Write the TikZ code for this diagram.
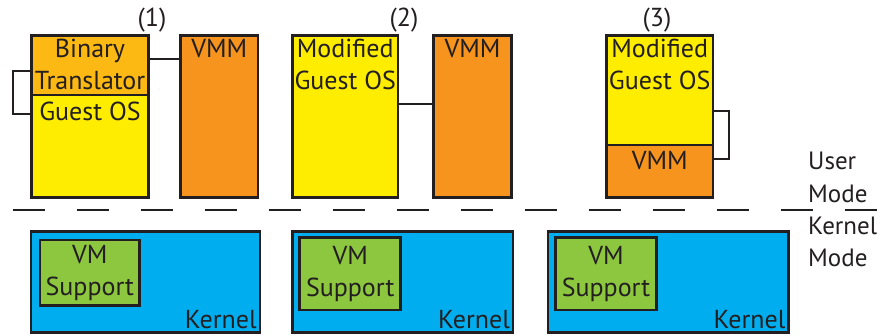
\documentclass[tikz,border=0pt]{standalone}
\usepackage{fontspec}
\setmainfont{PT Sans}
\definecolor{ink}{HTML}{231F20}
\definecolor{btorange}{HTML}{FDB913}
\definecolor{osyellow}{HTML}{FFED00}
\definecolor{vmmorange}{HTML}{F7941D}
\definecolor{kernblue}{HTML}{00AEEF}
\definecolor{vmgreen}{HTML}{8DC63F}
\begin{document}
\begin{tikzpicture}[x=1pt,y=-1pt,
  box/.style={draw=ink, line width=2.6pt, inner sep=0pt, outer sep=0pt, rectangle},
  lbl/.style={font=\fontsize{26}{31}\selectfont, text=ink, anchor=base, inner sep=0pt},
  side/.style={font=\fontsize{25}{30}\selectfont, text=ink, anchor=base west, inner sep=0pt},
  link/.style={draw=ink, line width=2pt},
  modeline/.style={draw=ink, line width=2.7pt, dash pattern=on 32pt off 32pt}]
\useasboundingbox (0,0) rectangle (880,336);

% ---- (1) full virtualisation with binary translation ----
\node[box, fill=osyellow, minimum width=117pt, minimum height=162pt] (os1) at (90,116.5) {};
\node[box, fill=btorange, minimum width=117pt, minimum height=59.5pt] (bt1) at (90,65.25) {};
\node[box, fill=vmmorange, minimum width=77.5pt, minimum height=162pt] (vmm1) at (219.25,116.5) {};
\node[lbl] (bt1a) at (90,58) {Binary};
\node[lbl] (bt1b) at (90,90) {Translator};
\node[lbl] (os1t) at (90,121) {Guest OS};
\node[lbl] (vmm1t) at (219.25,58) {VMM};
\node[lbl] (n1) at (152,27) {(1)};
\draw[link] ([yshift=6pt]bt1.east) -- ([yshift=6pt]bt1.east -| vmm1.west);
\draw[link] ([yshift=-5.75pt]bt1.west) -- ++(-19,0) |- ([yshift=7pt]os1.north west |- os1t.base) coordinate (br1);

% ---- (2) paravirtualisation ----
\node[box, fill=osyellow, minimum width=105.5pt, minimum height=162pt] (os2) at (345.25,116.5) {};
\node[box, fill=vmmorange, minimum width=78.4pt, minimum height=162pt] (vmm2) at (472.5,116.5) {};
\node[lbl] (os2a) at (345.25,58) {Modified};
\node[lbl] (os2b) at (345.25,90) {Guest OS};
\node[lbl] (vmm2t) at (472.5,58) {VMM};
\node[lbl] (n2) at (404,27) {(2)};
\draw[link] ([yshift=12.5pt]os2.east) -- ([yshift=12.5pt]os2.east -| vmm2.west);

% ---- (3) VMM inside the guest ----
\node[box, fill=osyellow, minimum width=106.7pt, minimum height=109.5pt] (os3) at (659.7,90.25) {};
\node[box, fill=vmmorange, minimum width=106.7pt, minimum height=52.5pt] (vmm3) at (659.7,171.25) {};
\node[lbl] (os3a) at (659.7,58) {Modified};
\node[lbl] (os3b) at (659.7,90) {Guest OS};
\node[lbl] (vmm3t) at (659.7,170) {VMM};
\node[lbl] (n3) at (657,27) {(3)};
\draw[link] ([yshift=-20.75pt]os3.east) -- ++(16,0) |- ([yshift=12.25pt]vmm3.east);

% ---- user / kernel boundary ----
\coordinate (ml) at (13,210);
\coordinate (mr) at (877,210);
\draw[modeline] (ml) -- (mr);
\node[side] (um1) at (808,170) {User};
\node[side] (um2) at (808,203) {Mode};
\node[side] (km1) at (808,235) {Kernel};
\node[side] (km2) at (808,267) {Mode};

% ---- kernels with VM support ----
\node[box, fill=kernblue, minimum width=228.8pt, minimum height=100.6pt] (k1) at (145.4,282) {};
\node[box, fill=vmgreen, minimum width=99.7pt, minimum height=65.3pt] (s1) at (89.8,272.7) {};
\node[box, fill=kernblue, minimum width=220.7pt, minimum height=100.6pt] (k2) at (402.7,282) {};
\node[box, fill=vmgreen, minimum width=101pt, minimum height=72.7pt] (s2) at (350.2,273.7) {};
\node[box, fill=kernblue, minimum width=240.6pt, minimum height=100.6pt] (k3) at (668.3,282) {};
\node[box, fill=vmgreen, minimum width=101.4pt, minimum height=72.7pt] (s3) at (606,273.7) {};
\foreach \s in {s1,s2,s3}{
  \node[lbl] at ([yshift=9.5pt]\s.center) {VM};
  \node[lbl] at ([yshift=-22.5pt]\s.center) {Support};
}
\foreach \k in {k1,k2,k3}{
  \node[lbl, anchor=base east] at ([xshift=-3pt,yshift=4pt]\k.south east) {Kernel};
}
\end{tikzpicture}
\end{document}
